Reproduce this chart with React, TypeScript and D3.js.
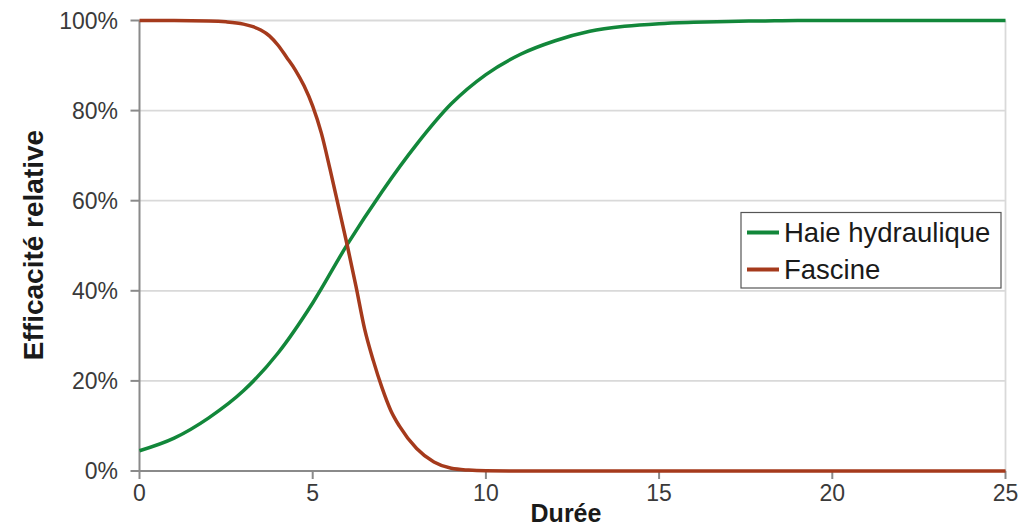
import React from "react";
import * as d3 from "d3";

const haieT = [0, 1, 2, 3, 4, 5, 6, 7, 8, 9, 10, 11, 12, 13, 14, 15, 16, 17, 18, 19, 20, 21, 22, 23, 24, 25];
const haieV = [4.5, 7.3, 11.8, 17.8, 26.2, 37.3, 50.3, 62, 72.5, 81.5, 88, 92.5, 95.5, 97.6, 98.7, 99.3, 99.6, 99.8, 99.9, 100, 100, 100, 100, 100, 100, 100];

const fascT = [0, 1, 2, 2.5, 3, 3.25, 3.5, 3.75, 4, 4.25, 4.5, 4.75, 5, 5.25, 5.5, 5.75, 6, 6.25, 6.5, 6.75, 7, 7.25, 7.5, 8, 8.5, 9, 9.5, 10, 11, 12, 15, 20, 25];
const fascV = [100, 100, 99.9, 99.7, 99.2, 98.7, 97.9, 96.6, 94.5, 91.8, 89, 85.5, 81, 75, 67, 58.5, 50, 41, 31.5, 24.5, 18.5, 13.5, 10, 5, 2, 0.6, 0.2, 0.05, 0, 0, 0, 0, 0];

const xTicks = [0, 5, 10, 15, 20, 25];
const yTicks = [0, 20, 40, 60, 80, 100];

const seriesNames = ["Haie hydraulique", "Fascine"];
const seriesColors = ["#12873a", "#a53a1c"];

const W = 1026;
const H = 528;
const margin = { left: 139.5, right: 20.5, top: 20.5, bottom: 57 };

export default function App() {
  const x = d3.scaleLinear().domain([0, 25]).range([margin.left, W - margin.right]);
  const y = d3.scaleLinear().domain([0, 100]).range([H - margin.bottom, margin.top]);
  const line = d3
    .line<[number, number]>()
    .x((d) => x(d[0]))
    .y((d) => y(d[1]))
    .curve(d3.curveMonotoneX);
  const haie: [number, number][] = haieT.map((t, i) => [t, haieV[i]]);
  const fasc: [number, number][] = fascT.map((t, i) => [t, fascV[i]]);
  const font = "'Liberation Sans', Arial, Helvetica, sans-serif";
  const x0 = x(0);
  const x1 = x(25);
  const y0 = y(0);
  const y1 = y(100);
  return (
    <svg
      width={W}
      height={H}
      style={{ position: "absolute", left: 0, top: 0, background: "#fff" }}
      fontFamily={font}
    >
      {yTicks.map((t) => (
        <line key={"g" + t} x1={x0} x2={x1} y1={y(t)} y2={y(t)} stroke="#d9d9d9" strokeWidth={1.8} />
      ))}
      <line x1={x1} x2={x1} y1={y1} y2={y0} stroke="#d9d9d9" strokeWidth={1.8} />
      <line x1={x0} x2={x0} y1={y1} y2={y0 + 1} stroke="#8a8a8a" strokeWidth={2} />
      <line x1={x0} x2={x1} y1={y0} y2={y0} stroke="#8a8a8a" strokeWidth={2} />
      {yTicks.map((t) => (
        <g key={"y" + t}>
          <line x1={x0 - 9} x2={x0} y1={y(t)} y2={y(t)} stroke="#8a8a8a" strokeWidth={2} />
          <text x={118} y={y(t) + 8} textAnchor="end" fontSize={23} fill="#3a3a3a">
            {t + "%"}
          </text>
        </g>
      ))}
      {xTicks.map((t) => (
        <g key={"x" + t}>
          <line x1={x(t)} x2={x(t)} y1={y0} y2={y0 + 8} stroke="#8a8a8a" strokeWidth={2} />
          <text x={x(t)} y={501} textAnchor="middle" fontSize={23} fill="#3a3a3a">
            {t}
          </text>
        </g>
      ))}
      <path d={line(haie) || ""} fill="none" stroke={seriesColors[0]} strokeWidth={3.5} />
      <path d={line(fasc) || ""} fill="none" stroke={seriesColors[1]} strokeWidth={3.5} />
      <text x={566} y={522} textAnchor="middle" fontSize={25} fontWeight="bold" fill="#1a1a1a">
        Durée
      </text>
      <text
        transform={`translate(43,245) rotate(-90)`}
        textAnchor="middle"
        fontSize={28}
        fontWeight="bold"
        fill="#1a1a1a"
      >
        Efficacité relative
      </text>
      <rect x={741} y={212.5} width={260} height={75.5} fill="#fff" stroke="#555" strokeWidth={1.2} />
      {seriesNames.map((n, i) => (
        <g key={n}>
          <line x1={747} x2={779} y1={232.5 + i * 37} y2={232.5 + i * 37} stroke={seriesColors[i]} strokeWidth={4} />
          <text x={784} y={241.5 + i * 37} fontSize={27.5} fill="#1a1a1a">
            {n}
          </text>
        </g>
      ))}
    </svg>
  );
}
